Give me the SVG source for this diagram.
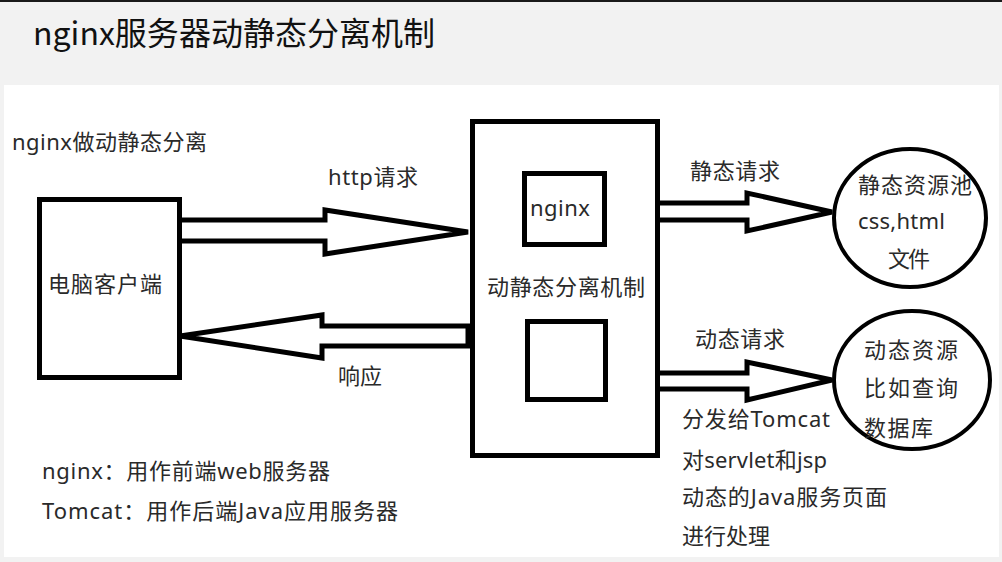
<svg xmlns="http://www.w3.org/2000/svg" width="1002" height="562" viewBox="0 0 1002 562">
<style>
.t{font-family:"Noto Sans","Noto Sans CJK SC",sans-serif;font-size:22px;fill:#2a2a2a}
.box{fill:#fff;stroke:#000;stroke-width:5}
.arr{fill:#fff;stroke:#000;stroke-width:5;stroke-linejoin:miter}
.circ{fill:#fff;stroke:#000;stroke-width:4}
</style>
<rect x="0" y="0" width="1002" height="562" fill="#f2f2f2"/>
<rect x="0" y="0" width="1002" height="2" fill="#1a1a1a"/>
<rect x="4" y="85" width="995" height="472" fill="#fff"/>
<text x="33" y="45" font-family="Noto Sans CJK SC, sans-serif" font-size="32" fill="#111" textLength="402" lengthAdjust="spacingAndGlyphs">nginx服务器动静态分离机制</text>
<text class="t" x="12" y="150" textLength="195">nginx做动静态分离</text>
<g id="connectors">
<path class="arr" d="M182,220 H325 V210 L468,232 L325,254 V241 H182"/>
<path class="arr" d="M468,326 H322 V315 L180,336 L322,358 V346 H468 Z"/>
<path class="arr" d="M660,203 H747 V193 L832,212 L747,231 V220 H660"/>
<path class="arr" d="M660,373 H747 V362 L832,380 L747,400 V389 H660"/>
<text class="t" x="328" y="185" textLength="90">http请求</text>
<text class="t" x="338" y="384" textLength="44">响应</text>
<text class="t" x="690" y="179" textLength="90">静态请求</text>
<text class="t" x="695" y="347" textLength="90">动态请求</text>
</g>
<g id="client">
<rect class="box" x="39.5" y="199.5" width="140" height="178"/>
<text class="t" x="48" y="292" textLength="114">电脑客户端</text>
</g>
<g id="server">
<rect class="box" x="472.5" y="121.5" width="185" height="334"/>
<text class="t" x="487" y="295" textLength="158">动静态分离机制</text>
</g>
<g id="nginx">
<rect class="box" x="524.5" y="173.5" width="80" height="71"/>
<text class="t" x="530" y="216" textLength="60">nginx</text>
</g>
<g id="empty-box">
<rect class="box" x="527.5" y="321.5" width="78" height="78"/>
</g>
<g id="static-pool">
<ellipse class="circ" cx="910" cy="218" rx="76" ry="69"/>
<text class="t" x="858" y="193" textLength="114">静态资源池</text>
<text class="t" x="858" y="229" textLength="87">css,html</text>
<text class="t" x="888" y="267" textLength="42">文件</text>
</g>
<g id="dynamic-pool">
<ellipse class="circ" cx="912" cy="380" rx="78" ry="69"/>
<text class="t" x="864" y="358" textLength="94">动态资源</text>
<text class="t" x="864" y="396" textLength="94">比如查询</text>
<text class="t" x="864" y="436" textLength="69">数据库</text>
</g>
<g id="notes">
<text class="t" x="682" y="427" textLength="148">分发给Tomcat</text>
<text class="t" x="682" y="468" textLength="145">对servlet和jsp</text>
<text class="t" x="682" y="505" textLength="205">动态的Java服务页面</text>
<text class="t" x="682" y="544" textLength="88">进行处理</text>
<text class="t" x="42" y="479" textLength="288">nginx：用作前端web服务器</text>
<text class="t" x="42" y="519" textLength="356">Tomcat：用作后端Java应用服务器</text>
</g>
</svg>
